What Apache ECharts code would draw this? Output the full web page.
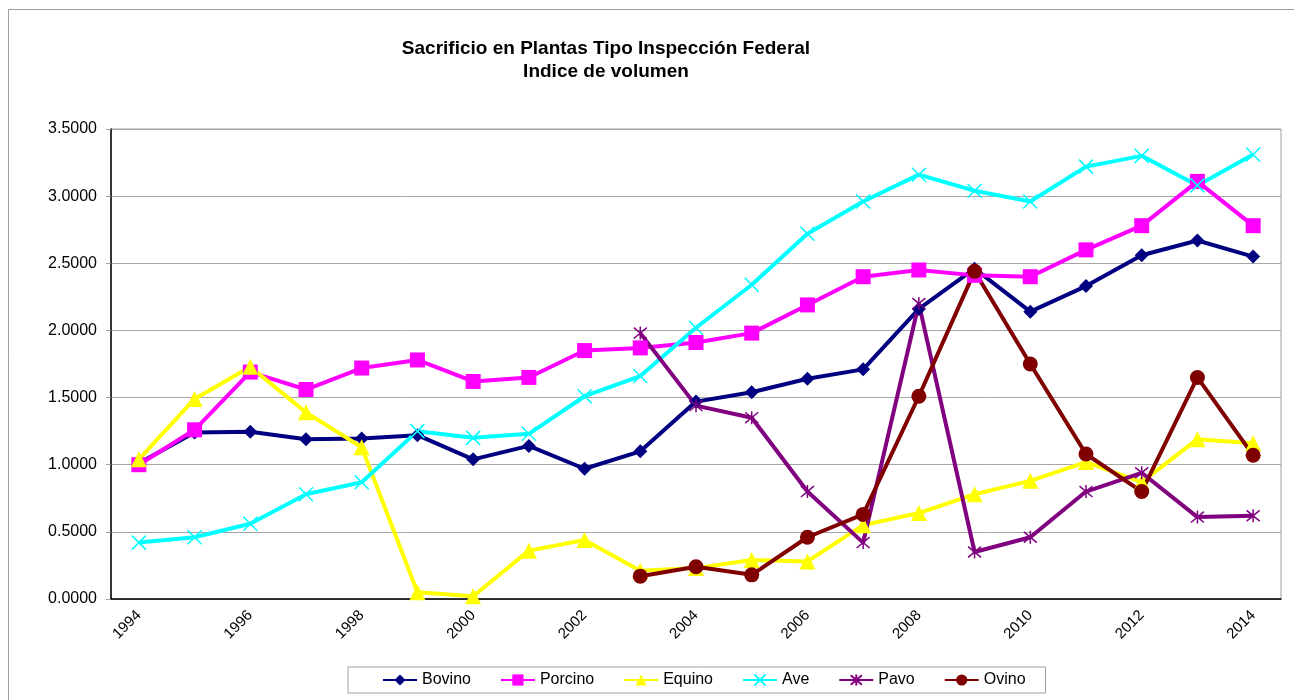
<!DOCTYPE html>
<html>
<head>
<meta charset="utf-8">
<script src="https://cdn.jsdelivr.net/npm/echarts@6/dist/echarts.min.js"></script>
<style>
  html, body { margin: 0; padding: 0; background: #fff; }
  #main { width: 1294px; height: 700px; }
</style>
</head>
<body>
<div id="main"></div>
<script>
// años
var years = ['1994','1995','1996','1997','1998','1999','2000','2001','2002','2003','2004',
             '2005','2006','2007','2008','2009','2010','2011','2012','2013','2014'];

var bovino  = [1.01,1.24,1.245,1.19,1.195,1.22,1.04,1.14,0.97,1.10,1.47,1.54,1.64,1.71,2.16,2.46,2.14,2.33,2.56,2.67,2.55];
var porcino = [1.00,1.26,1.69,1.56,1.72,1.78,1.62,1.65,1.85,1.87,1.91,1.98,2.19,2.40,2.45,2.41,2.40,2.60,2.78,3.11,2.78];
var equino  = [1.04,1.49,1.73,1.39,1.13,0.05,0.02,0.36,0.44,0.21,0.23,0.29,0.28,0.55,0.64,0.78,0.88,1.02,0.87,1.19,1.16];
var ave     = [0.42,0.46,0.56,0.78,0.87,1.25,1.20,1.23,1.51,1.66,2.02,2.34,2.72,2.96,3.16,3.04,2.96,3.22,3.30,3.08,3.31];
var pavo    = [null,null,null,null,null,null,null,null,null,1.98,1.44,1.35,0.80,0.42,2.20,0.35,0.46,0.80,0.94,0.61,0.62];
var ovino   = [null,null,null,null,null,null,null,null,null,0.17,0.24,0.18,0.46,0.63,1.51,2.44,1.75,1.08,0.80,1.65,1.07];

var font = 'Liberation Sans, Arial, sans-serif';

function serie(name, data, color, symbol, size, stroke) {
    return {
        name: name,
        type: 'line',
        data: data,
        symbol: symbol,
        symbolSize: size,
        connectNulls: false,
        lineStyle: { color: color, width: 4 },
        itemStyle: stroke ? { color: color, borderColor: color, borderWidth: 1.5 } : { color: color },
        emphasis: { disabled: true },
        animation: false
    };
}

var chart = echarts.init(document.getElementById('main'));
chart.setOption({
    backgroundColor: '#fff',
    title: {
        text: 'Sacrificio en Plantas Tipo Inspección Federal\nIndice de volumen',
        left: 601,
        top: 32,
        textAlign: 'center',
        textStyle: { fontFamily: font, fontSize: 19, fontWeight: 'bold', color: '#000', lineHeight: 23 }
    },
    graphic: [{
        type: 'rect',
        shape: { x: 8.5, y: 9.5, width: 1400, height: 720 },
        style: { fill: 'none', stroke: '#a0a0a0', lineWidth: 1 },
        silent: true
    }],
    legend: {
        left: 348,
        top: 667,
        padding: [5, 20, 5, 34],
        itemGap: 29,
        itemWidth: 34,
        itemHeight: 14,
        borderColor: '#a0a0a0',
        borderWidth: 1,
        textStyle: { fontFamily: font, fontSize: 16, color: '#000' },
        data: ['Bovino','Porcino','Equino','Ave','Pavo','Ovino']
    },
    grid: {
        left: 111, right: 13, top: 129, bottom: 101,
        show: true, borderColor: '#a0a0a0', borderWidth: 1
    },
    xAxis: {
        type: 'category',
        data: years,
        boundaryGap: true,
        axisLine: { lineStyle: { color: '#000', width: 1.5 } },
        axisTick: { interval: 0, length: 5, lineStyle: { color: '#a0a0a0' } },
        axisLabel: { interval: 1, rotate: 45, margin: 14, fontFamily: font, fontSize: 15, color: '#000' }
    },
    yAxis: {
        type: 'value',
        min: 0, max: 3.5, interval: 0.5,
        axisLine: { show: true, lineStyle: { color: '#000', width: 1.5 } },
        axisTick: { show: true, length: 5, lineStyle: { color: '#a0a0a0' } },
        axisLabel: {
            margin: 14, fontFamily: font, fontSize: 16, color: '#000',
            formatter: function (v) { return v.toFixed(4); }
        },
        splitLine: { lineStyle: { color: '#a6a6a6', width: 1 } }
    },
    series: [
        serie('Bovino', bovino, '#000080', 'path://M5,0L10,5L5,10L0,5Z', 14),
        serie('Porcino', porcino, '#ff00ff', 'rect', 15),
        serie('Equino', equino, '#ffff00', 'triangle', 16),
        serie('Ave', ave, '#00ffff', 'path://M0,0L10,10M10,0L0,10', 14, true),
        serie('Pavo', pavo, '#800080', 'path://M0,0L10,10M10,0L0,10M5,-1L5,11', 13, true),
        serie('Ovino', ovino, '#800000', 'circle', 15)
    ]
});
</script>
</body>
</html>
